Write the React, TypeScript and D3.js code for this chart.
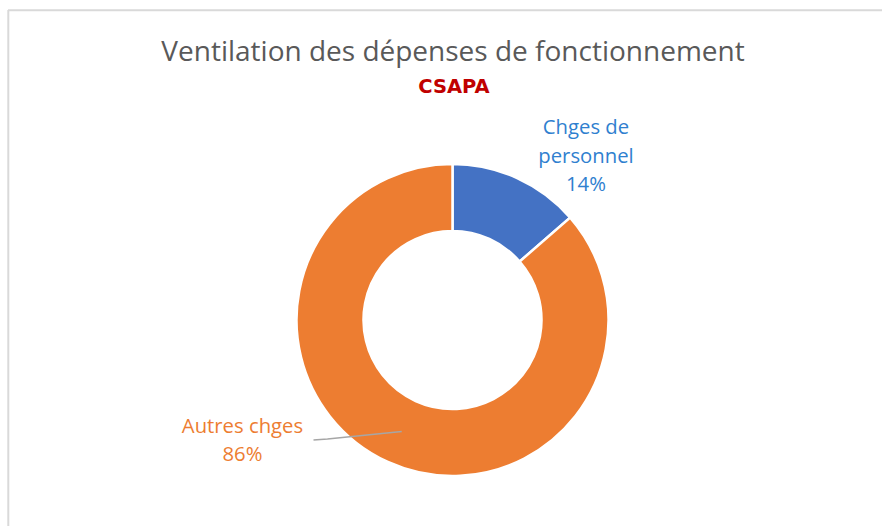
import React from 'react';
import * as d3 from 'd3';

// Ventilation des dépenses de fonctionnement - CSAPA (donut)
const categories = ['Chges de personnel', 'Autres chges'];
const values = [13.6, 86.4];
const sliceColors = ['#4472C4', '#ED7D31'];
const labelColors = ['#2F80CF', '#ED7D31'];
const labelLines = [['Chges de', 'personnel'], ['Autres chges']];

const W = 882;
const H = 526;
const cx = 452.5;
const cy = 320;
const outerR = 156;
const innerR = 89;

type Slice = { name: string; value: number };

const App = () => {
  const data: Slice[] = categories.map((name, i) => ({ name, value: values[i] }));
  const total = d3.sum(values);
  const pct = d3.format('.0%');

  const pie = d3.pie<Slice>().value(d => d.value).sort(null);
  const arcs = pie(data);
  const arc = d3.arc<d3.PieArcDatum<Slice>>().innerRadius(innerR).outerRadius(outerR);

  // label anchors, relative to donut center
  const labelPos = [
    { x: cx + 133.5, y: cy - 164.5 },
    { x: cx - 210, y: cy + 120 },
  ];

  const [ox, oy] = arc.centroid(arcs[1]);
  const leader = d3.line()([
    [cx + ox, cy + oy],
    [cx - 125, cy + 119],
    [cx - 139, cy + 120],
  ]);

  const lineH = 28.5;

  return (
    <div style={{ position: 'absolute', left: 0, top: 0 }}>
      <svg width={W} height={H} style={{ display: 'block', background: '#fff' }}>
        <line x1={8} y1={10.3} x2={W} y2={10.3} stroke="#D9D9D9" strokeWidth={2} />
        <line x1={8.3} y1={10} x2={8.3} y2={H} stroke="#D9D9D9" strokeWidth={2} />

        <text x={453} y={61} textAnchor="middle" fontFamily="'Open Sans', sans-serif"
          fontSize={28} fill="#595959">
          Ventilation des dépenses de fonctionnement
        </text>
        <text x={454} y={93} textAnchor="middle" fontFamily="'DejaVu Sans', sans-serif"
          fontSize={19.5} fontWeight="bold" fill="#C00000">
          CSAPA
        </text>

        <g transform={`translate(${cx},${cy})`}>
          {arcs.map((a, i) => (
            <path key={categories[i]} d={arc(a) || ''} fill={sliceColors[i]}
              stroke="#fff" strokeWidth={2.5} />
          ))}
        </g>

        <path d={leader || ''} fill="none" stroke="#A6A6A6" strokeWidth={1.6} />

        {arcs.map((a, i) => {
          const lines = [...labelLines[i], pct(a.data.value / total)];
          const p = labelPos[i];
          return (
            <text key={'lbl' + i} textAnchor="middle" fontFamily="'Open Sans', sans-serif"
              fontSize={20.3} fill={labelColors[i]}>
              {lines.map((t, j) => (
                <tspan key={j} x={p.x} y={p.y - ((lines.length - 1) * lineH) / 2 + j * lineH + 7}>
                  {t}
                </tspan>
              ))}
            </text>
          );
        })}
      </svg>
    </div>
  );
};

export default App;
